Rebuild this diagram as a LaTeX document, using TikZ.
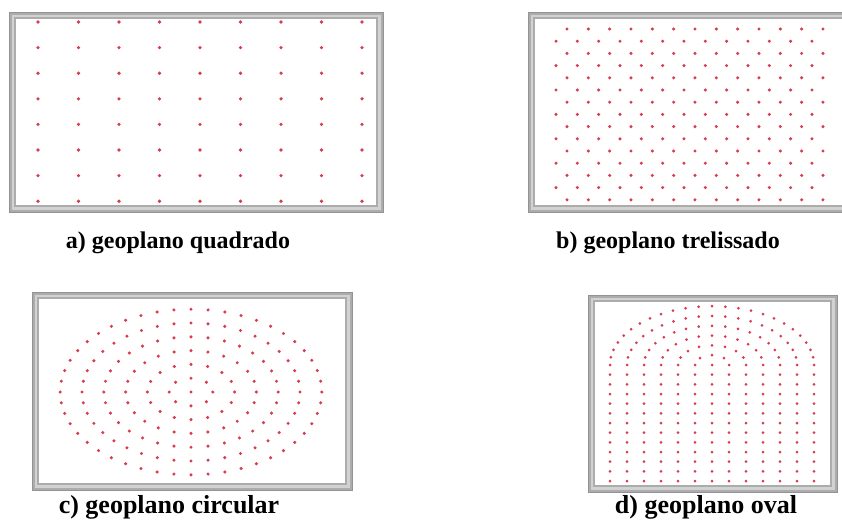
\documentclass[tikz,border=0pt]{standalone}
\usepackage{fontspec}
\setmainfont{Liberation Serif}
\usetikzlibrary{positioning}
\definecolor{pinred}{RGB}{215,60,80}

\tikzset{
  pin/.style={fill=pinred},
  caption/.style={font=\fontsize{24}{28}\selectfont\bfseries, inner sep=0pt},
  bigcaption/.style={caption, font=\fontsize{26}{30}\selectfont\bfseries},
}

% board frame: x1, y1, x2, y2
\newcommand{\geoframe}[4]{%
  \filldraw[fill=gray!65,draw=gray!85,line width=1pt] (#1,#2) rectangle (#3,#4);
  \fill[gray!35] (#1+2.5,#2+2.5) rectangle (#3-2.5,#4-2.5);
  \filldraw[fill=white,draw=gray!65,line width=1.6pt] (#1+6,#2+6) rectangle (#3-6,#4-6);
}

\begin{document}
\begin{tikzpicture}[x=1pt,y=-1pt]
  \useasboundingbox (0,0) rectangle (842,520);
  \clip (0,0) rectangle (842,520);

  % a) square board
  \geoframe{9}{12}{383}{212}
  \foreach \i in {0,...,8}
    \foreach \j in {0,...,7}
      \fill[pin] (38+40.5*\i, 22+25.6*\j) circle (1.8pt);
  \node[caption] (capa) at (178,243) {a) geoplano quadrado};

  % b) trellis board
  \geoframe{528}{12}{860}{212}
  \foreach \j in {0,...,14} {
    \pgfmathsetmacro{\xo}{567-11*mod(\j,2)}
    \foreach \i in {0,...,12}
      \fill[pin] (\xo+21.33*\i, 29+12.2*\j) circle (1.7pt);
  }
  \node[caption] (capb) at (668,243) {b) geoplano trelissado};

  % c) circular board
  \geoframe{32}{292}{352}{490}
  \fill[pin] (191,392) circle (1.7pt);
  \foreach \k in {1,...,6} {
    \pgfmathtruncatemacro{\n}{8*\k-1}
    \foreach \m in {0,...,\n}
      \fill[pin] ({191+21.8*\k*cos(45*\m/\k)}, {392+13.8*\k*sin(45*\m/\k)}) circle (1.7pt);
  }
  \node[bigcaption] (capc) at (169,507) {c) geoplano circular};

  % d) oval board
  \geoframe{588}{295}{837}{492}
  \fill[pin] (712,365) circle (1.5pt);
  \foreach \k in {1,...,6} {
    \pgfmathtruncatemacro{\n}{4*\k}
    \foreach \m in {0,...,\n}
      \fill[pin] ({712+17*\k*cos(45*\m/\k)}, {365-9.8*\k*sin(45*\m/\k)}) circle (1.5pt);
  }
  \foreach \i in {-6,...,6}
    \foreach \j in {1,...,12}
      \fill[pin] (712+17*\i, 365+9.67*\j) circle (1.5pt);
  \node[bigcaption] (capd) at (706,507) {d) geoplano oval};
\end{tikzpicture}
\end{document}
